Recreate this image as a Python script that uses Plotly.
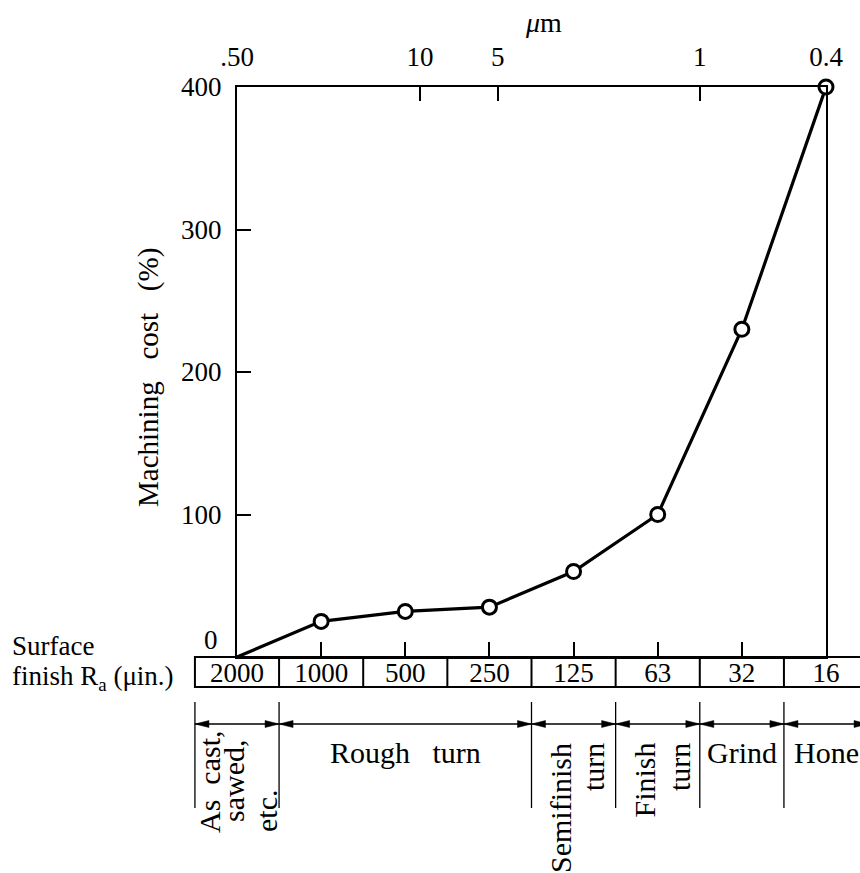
import plotly.graph_objects as go

# ---------------- data ----------------
finish_uin = ["2000", "1000", "500", "250", "125", "63", "32", "16"]
cost_pct = [0, 25, 32, 35, 60, 100, 230, 400]
cost_ticks = [0, 100, 200, 300, 400]
um_labels = [".50", "10", "5", "1", "0.4"]
um_pos = [0, 2.175, 3.1, 5.5, 7]          # position on the finish scale (category index)
process_from = [-0.5, 0.5, 3.5, 4.5, 5.5, 6.5]
process_to = [0.5, 3.5, 4.5, 5.5, 6.5, 7.5]

# ---------------- geometry ----------------
W, H = 860, 873
FONT = "Liberation Serif, Times New Roman, serif"
NB = "\u00a0"


def px(x):
    return x / W


def py(y):
    return 1 - y / H


X0, X1 = 237, 826          # plot left / right (px)
Y_TOP, Y_ZERO = 87, 657    # plot top / bottom (px)
n = len(finish_uin) - 1
unit = (X1 - X0) / n
x3_range = [-X0 / unit, (W - X0) / unit]

fig = go.Figure()

fig.add_trace(go.Scatter(
    x=finish_uin, y=cost_pct, mode="lines",
    line=dict(color="black", width=3.2),
    cliponaxis=False, hoverinfo="skip", showlegend=False))
fig.add_trace(go.Scatter(
    x=finish_uin[1:], y=cost_pct[1:], mode="markers",
    marker=dict(symbol="circle", size=14, color="white",
                line=dict(color="black", width=3)),
    cliponaxis=False, hoverinfo="skip", showlegend=False))
# activate auxiliary axes
fig.add_trace(go.Scatter(x=um_pos, y=[None] * len(um_pos), xaxis="x2",
                         mode="markers", hoverinfo="skip", showlegend=False))
fig.add_trace(go.Scatter(x=[0], y=[None], xaxis="x3", mode="markers",
                         hoverinfo="skip", showlegend=False))

tick_font = dict(family=FONT, size=27, color="black")

fig.update_layout(
    template="none",
    width=W, height=H, autosize=False,
    margin=dict(l=0, r=0, t=0, b=0, pad=0, autoexpand=False),
    paper_bgcolor="white", plot_bgcolor="rgba(0,0,0,0)",
    showlegend=False,
    font=dict(family=FONT, color="black"),
    xaxis=dict(type="category", domain=[px(X0), px(X1)], range=[0, n],
               anchor="y", showline=True, linecolor="black", linewidth=2,
               ticks="inside", ticklen=15, tickwidth=2, tickcolor="black",
               showgrid=False, zeroline=False, tickfont=tick_font,
               ticklabelstandoff=-9, automargin=False, fixedrange=True),
    xaxis2=dict(overlaying="x", side="top", anchor="y", range=[0, n],
                tickmode="array", tickvals=um_pos, ticktext=um_labels,
                ticks="inside", ticklen=14, tickwidth=2, tickcolor="black",
                showline=True, linecolor="black", linewidth=2,
                showgrid=False, zeroline=False, tickfont=tick_font,
                ticklabelstandoff=8, automargin=False, fixedrange=True),
    xaxis3=dict(domain=[0, 1], range=x3_range, anchor="y", visible=False,
                automargin=False, fixedrange=True),
    yaxis=dict(domain=[py(Y_ZERO), py(Y_TOP)], range=[0, 400],
               tickmode="array", tickvals=cost_ticks[1:],
               ticktext=[str(v) for v in cost_ticks[1:]],
               ticks="inside", ticklen=14, tickwidth=2, tickcolor="black",
               showline=True, mirror=True, linecolor="black", linewidth=2,
               showgrid=False, zeroline=False, tickfont=tick_font,
               ticklabelstandoff=8, automargin=False, fixedrange=True),
)

shapes = []
# table of surface-finish values
shapes.append(dict(type="rect", xref="x3", yref="paper",
                   x0=-0.5, x1=len(finish_uin) - 0.5,
                   y0=py(687), y1=py(657),
                   line=dict(color="black", width=2)))
for i in range(len(finish_uin) - 1):
    shapes.append(dict(type="line", xref="x3", yref="paper",
                       x0=i + 0.5, x1=i + 0.5, y0=py(687), y1=py(657),
                       line=dict(color="black", width=2)))

# process range brackets
bounds = sorted(set(process_from) | set(process_to))
for b in bounds:
    shapes.append(dict(type="line", xref="x3", yref="paper",
                       x0=b, x1=b, y0=py(808), y1=py(702),
                       line=dict(color="black", width=1.3)))
ya = py(724)
L = 14 / unit
hh = 3.5 / H
for a, b in zip(process_from, process_to):
    shapes.append(dict(type="line", xref="x3", yref="paper",
                       x0=a, x1=b, y0=ya, y1=ya,
                       line=dict(color="black", width=1.3)))
    shapes.append(dict(type="path", xref="x3", yref="paper",
                       path=f"M{a},{ya} L{a + L},{ya + hh} L{a + L},{ya - hh} Z",
                       fillcolor="black", line=dict(color="black", width=0.5)))
    shapes.append(dict(type="path", xref="x3", yref="paper",
                       path=f"M{b},{ya} L{b - L},{ya + hh} L{b - L},{ya - hh} Z",
                       fillcolor="black", line=dict(color="black", width=0.5)))
fig.update_layout(shapes=shapes)

ann = []


def text(t, x, y, size, xref="paper", yref="paper", xanchor="center",
         yanchor="middle", angle=0, yshift=0):
    ann.append(dict(text=t, x=x, y=y, xref=xref, yref=yref, xanchor=xanchor,
                    yanchor=yanchor, textangle=angle, showarrow=False,
                    borderpad=0, borderwidth=0, yshift=yshift,
                    font=dict(family=FONT, size=size, color="black")))


text("<i>μ</i>m", px(543), py(22), 28)
text("Machining" + NB * 3 + "cost" + NB * 3 + "(%)", px(148), py(378), 29,
     angle=-90)
text(str(cost_ticks[0]), px(211), 0, 27, yref="y", yshift=17)
text("Surface", px(12), py(646), 27, xanchor="left")
text("finish R<sub>a</sub> (μin.)", px(12), py(678), 27, xanchor="left")

# horizontal process labels centred in their range
text("Rough" + NB * 3 + "turn", (process_from[1] + process_to[1]) / 2, py(752), 30,
     xref="x3")
text("Grind", (process_from[4] + process_to[4]) / 2, py(752), 30, xref="x3")
text("Hone", (process_from[5] + process_to[5]) / 2, py(752), 30, xref="x3")

# rotated process labels
text("As" + NB * 2 + "cast,", px(209), py(833), 30, yanchor="bottom", angle=-90)
text("sawed,", px(233), py(822), 30, yanchor="bottom", angle=-90)
text("etc.", px(266), py(832), 30, yanchor="bottom", angle=-90)
text("Semifinish", px(560), py(743), 30, yanchor="top", angle=-90)
text("turn", px(593), py(743), 30, yanchor="top", angle=-90)
text("Finish", px(644), py(743), 30, yanchor="top", angle=-90)
text("turn", px(679), py(743), 30, yanchor="top", angle=-90)

fig.update_layout(annotations=ann)

fig.write_html(
    "out.html",
    config={"displayModeBar": False},
    post_script="document.body.style.margin='0';document.body.style.overflow='hidden';",
)
